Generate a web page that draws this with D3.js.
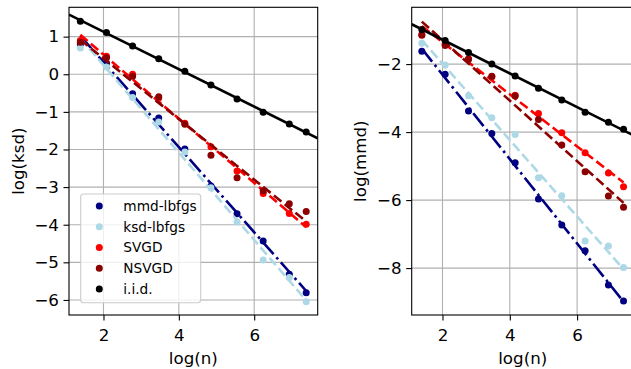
<!DOCTYPE html>
<html>
<head>
<meta charset="utf-8">
<script src="https://cdn.jsdelivr.net/npm/d3@7"></script>
<style>
body { margin: 0; background: white; }
svg text { font-family: "DejaVu Sans", sans-serif; fill: black; }
</style>
</head>
<body>
<div id="vizContainer"></div>
<script>
let w = 631;
let h = 369;

// log of sample size
let logN = [1.386, 2.079, 2.773, 3.466, 4.159, 4.852, 5.545, 6.238, 6.931, 7.38];

let seriesNames = ["mmd-lbfgs", "ksd-lbfgs", "SVGD", "NSVGD", "i.i.d."];

// log(ksd), left panel
let ksdMmd   = [0.80, 0.29, -0.52, -1.16, -1.99, -2.97, -3.71, -4.43, -5.32, -5.81];
let ksdKsd   = [0.70, 0.19, -0.62, -1.27, -2.07, -3.02, -3.93, -4.94, -5.40, -6.05];
let ksdSvgd  = [0.90, 0.48, 0.00, -0.63, -1.30, -1.93, -2.57, -3.17, -3.70, -3.99];
let ksdNsvgd = [0.85, 0.44, -0.05, -0.60, -1.33, -2.15, -2.75, -3.10, -3.44, -3.65];
let ksdIid   = [1.41, 1.11, 0.75, 0.41, 0.08, -0.285, -0.657, -1.01, -1.32, -1.535];

// log(mmd), right panel
let mmdMmd   = [-1.62, -2.30, -3.38, -4.04, -4.90, -5.97, -6.73, -7.49, -8.50, -8.97];
let mmdKsd   = [-1.39, -2.03, -2.93, -3.58, -4.07, -5.34, -5.87, -7.20, -7.35, -7.98];
let mmdSvgd  = [-1.13, -1.42, -1.84, -2.37, -2.92, -3.45, -4.02, -4.61, -5.20, -5.61];
let mmdNsvgd = [-1.15, -1.45, -1.86, -2.36, -2.94, -3.63, -4.38, -5.17, -5.88, -6.21];
let mmdIid   = [-0.98, -1.31, -1.66, -2.00, -2.35, -2.71, -3.06, -3.42, -3.71, -3.92];

let xTicks = [2, 4, 6];
let ksdTicks = [1, 0, -1, -2, -3, -4, -5, -6];
let mmdTicks = [-2, -4, -6, -8];

// styles
let colors = ["navy", "lightblue", "red", "darkred", "black"];
let dashes = ["16.5,4.2,2.6,4.2", "9.6,4.2", "9.6,4.2", "9.6,4.2", null];

let xDomain = [1.085, 7.685];

let viz = d3.select('#vizContainer').append('svg')
	.attr('width', w)
	.attr('height', h)
	.style('background-color', 'white')
	;

// least squares fit, returns [slope, intercept]
function fit(xs, ys){
	let mx = d3.mean(xs);
	let my = d3.mean(ys);
	let sxy = d3.sum(xs, function(x, i){ return (x - mx) * (ys[i] - my) });
	let sxx = d3.sum(xs, function(x){ return (x - mx) * (x - mx) });
	let b = sxy / sxx;
	return [b, my - b * mx];
}

function drawPanel(p){
	let xScale = d3.scaleLinear().domain(xDomain).range([p.left, p.right]);
	let yScale = d3.scaleLinear().domain(p.yDomain).range([p.bottom, p.top]);

	let g = viz.append('g').attr('class', 'panel-' + p.name);

	g.append('clipPath').attr('id', 'clip-' + p.name)
		.append('rect')
		.attr('x', p.left).attr('y', p.top)
		.attr('width', p.right - p.left).attr('height', p.bottom - p.top);

	// grid
	g.selectAll('.vgrid').data(xTicks).enter().append('line')
		.attr('x1', function(d){ return xScale(d) })
		.attr('x2', function(d){ return xScale(d) })
		.attr('y1', p.top).attr('y2', p.bottom)
		.attr('stroke', '#b0b0b0').attr('stroke-width', 1.1);
	g.selectAll('.hgrid').data(p.yTicks).enter().append('line')
		.attr('y1', function(d){ return yScale(d) })
		.attr('y2', function(d){ return yScale(d) })
		.attr('x1', p.left).attr('x2', p.right)
		.attr('stroke', '#b0b0b0').attr('stroke-width', 1.1);

	let plot = g.append('g').attr('clip-path', 'url(#clip-' + p.name + ')');

	p.series.forEach(function(ys, k){
		let pts = logN.map(function(x, i){ return [x, ys[i]] });
		plot.selectAll('.pt' + k).data(pts).enter().append('circle')
			.attr('cx', function(d){ return xScale(d[0]) })
			.attr('cy', function(d){ return yScale(d[1]) })
			.attr('r', 3.5)
			.attr('fill', colors[k]);

		let f = fit(logN, ys);
		let xr = k == 4 ? xDomain : [logN[0], logN[logN.length - 1]];
		plot.append('line')
			.attr('x1', xScale(xr[0])).attr('y1', yScale(f[1] + f[0] * xr[0]))
			.attr('x2', xScale(xr[1])).attr('y2', yScale(f[1] + f[0] * xr[1]))
			.attr('stroke', colors[k])
			.attr('stroke-width', 2.6)
			.attr('stroke-dasharray', dashes[k]);
	});

	// axes
	let xAxis = d3.axisBottom(xScale).tickValues(xTicks).tickSize(5.5).tickPadding(9).tickFormat(d3.format('d'));
	let yAxis = d3.axisLeft(yScale).tickValues(p.yTicks).tickSize(5.5).tickPadding(4.5).tickFormat(d3.format('d'));

	let gx = g.append('g').attr('transform', 'translate(0,' + p.bottom + ')').call(xAxis);
	let gy = g.append('g').attr('transform', 'translate(' + p.left + ',0)').call(yAxis);
	[gx, gy].forEach(function(a){
		a.select('.domain').remove();
		a.selectAll('line').attr('stroke', 'black').attr('stroke-width', 1.1);
		a.selectAll('text').style('font-size', '16.7px').attr('fill', 'black');
	});

	// frame
	g.append('rect')
		.attr('x', p.left).attr('y', p.top)
		.attr('width', p.right - p.left).attr('height', p.bottom - p.top)
		.attr('fill', 'none').attr('stroke', 'black').attr('stroke-width', 1.1);

	g.append('text')
		.attr('x', (p.left + p.right) / 2).attr('y', 364)
		.attr('text-anchor', 'middle')
		.style('font-size', '16.7px')
		.text('log(n)');

	g.append('text')
		.attr('transform', 'translate(' + p.labelX + ',' + (p.top + p.bottom) / 2 + ') rotate(-90)')
		.attr('text-anchor', 'middle')
		.style('font-size', '16.7px')
		.text(p.label);

	if (p.legend){
		let lg = g.append('g').attr('transform', 'translate(80.7,194)');
		lg.append('rect')
			.attr('width', 120).attr('height', 108.7)
			.attr('rx', 3)
			.attr('fill', 'white').attr('fill-opacity', 0.8)
			.attr('stroke', '#cccccc').attr('stroke-width', 1.1);
		let rows = lg.selectAll('.row').data(seriesNames).enter().append('g')
			.attr('transform', function(d, i){ return 'translate(0,' + (12 + i * 20.75) + ')' });
		rows.append('circle')
			.attr('cx', 18.6).attr('cy', 0).attr('r', 3.5)
			.attr('fill', function(d, i){ return colors[i] });
		rows.append('text')
			.attr('x', 42.6).attr('y', 0).attr('dy', '0.36em')
			.style('font-size', '13.7px')
			.text(function(d){ return d });
	}
}

drawPanel({
	name: 'ksd', left: 69, right: 317.7, top: 7.3, bottom: 315,
	yDomain: [-6.40, 1.78], yTicks: ksdTicks,
	label: 'log(ksd)', labelX: 24,
	series: [ksdMmd, ksdKsd, ksdSvgd, ksdNsvgd, ksdIid], legend: true
});

drawPanel({
	name: 'mmd', left: 411.7, right: 633.8, top: 7.3, bottom: 315,
	yDomain: [-9.38, -0.33], yTicks: mmdTicks,
	label: 'log(mmd)', labelX: 366,
	series: [mmdMmd, mmdKsd, mmdSvgd, mmdNsvgd, mmdIid], legend: false
});
</script>
</body>
</html>
